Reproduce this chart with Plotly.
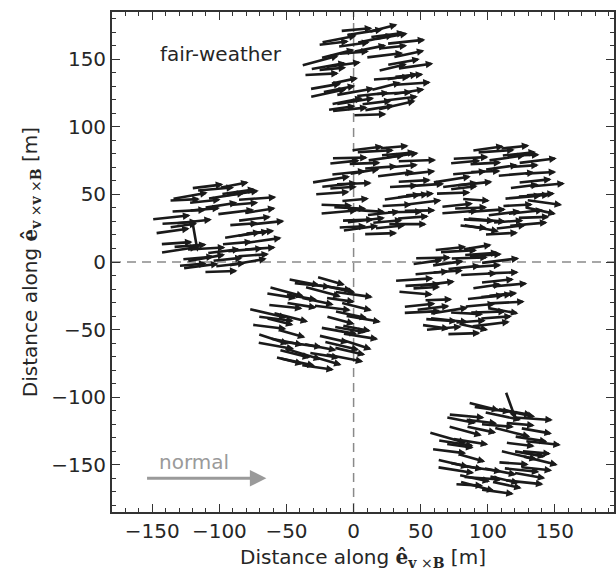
import math
import plotly.graph_objects as go

# Station centres (m) in the shower plane: v x B (x) and v x v x B (y)
station_x = [10, 18, 108, -101, -29, 80, 105]
station_y = [141, 53, 53, 25, -46, -21, -138]

# Antenna offsets within a station (m): outer ring, middle ring, inner ring, extras
offset_x = [36, 31, 29, 18, 12, -2, -8, -21, -25, -35, -34, -31, -29, -19, -13, 2, 9, 22, 26, 34,
            27, 19, 6, -10, -22, -26, -21, -9, 7, 20, 26,
            19, 13, 2, -10, -18, -17, -9, 4, 14, 18, 31,
            15, -15, 31, -29]
offset_y = [4, 13, 22, 26, 32, 29, 31, 24, 21, 8, -2, -11, -16, -27, -28, -32, -27, -25, -20, -9,
            7, 18, 24, 20, 13, 2, -13, -22, -23, -16, -4,
            3, 12, 17, 14, 5, -7, -15, -17, -11, -5, -15,
            27, -22, -3, 4]

# Arrow length (m) per antenna
arrow_len = [27, 24, 29, 25, 22, 28, 24, 27, 23, 29, 26, 24, 28, 21, 27, 25, 23, 29, 24, 27,
             25, 22, 28, 24, 26, 21, 25, 29, 23, 27, 24,
             22, 28, 25, 23, 27, 21, 29, 25, 23, 28, 24,
             26, 24, 22, 27]

# Polarisation direction (degrees from the v x B axis) per station and antenna
angle_a = [8, 12, 6, 10, 14, 9, 5, 11, 7, 15, 3, 10, 12, 8, 6, 2, 9, 13, 7, 4,
           10, 6, 12, 8, 14, 5, 11, 9, 7, 3, 9,
           13, 7, 11, 5, 8, 12, 10, 6, 14, 4, 9,
           7, 11, 5, 10]
angle_b = [4, 6, 2, 8, 5, 3, 7, 1, 6, 9, 4, -2, 5, 3, 8, 2, 6, 0, 4, 7,
           3, 5, 8, 2, 6, 4, -3, 7, 5, 1, 6,
           3, 7, 4, 9, 2, 5, -4, 6, 3, 8, 1,
           5, 2, 4, 6]
angle_c = [5, 3, 7, 2, 6, 4, 8, 3, 5, 9, 2, 6, 4, -6, -10, 3, 7, 5, 2, -8,
           6, 4, 8, 3, 5, 7, 2, -5, 4, 6, 3,
           7, 5, 8, 2, 6, -4, 4, 7, 3, 5, -12,
           6, -3, 4, 7]
angle_d = [6, 9, 4, 8, 11, 5, 7, 10, 3, 6, 8, 4, 9, 5, 7, 2, 6, 10, 4, 8,
           7, 5, 9, 6, 3, 8, 4, 10, 6, 5, 8,
           4, 7, 9, 5, 6, -80, 3, 7, 5, 9, 4,
           8, 5, 6, 3]
angle_e = [-10, -14, -8, -12, -16, -6, -11, -15, -9, -13, -7, -18, -10, -14, -12, -8, -16, -11, -13, -9,
           -12, -8, -15, -10, -6, -14, -11, -17, -9, -13, -10,
           -15, -7, -12, -9, -14, -16, -8, -11, -13, -10, -18,
           -9, -14, -11, -7]
angle_f = [5, 2, 7, 4, 9, 3, 6, 1, 8, 4, -5, 6, 3, -8, 5, 2, -12, 7, 4, 3,
           6, 4, 2, 8, 5, 3, 7, -6, 4, 2, 5,
           8, 3, 6, 4, 7, 2, 9, -3, 5, 6, -10,
           4, -4, 6, 3]
angle_g = [-6, -10, -4, -12, -70, -8, -14, -5, -11, -16, -7, -13, -9, -3, -15, -8, -12, -6, -10, -14,
           -9, -5, -12, -7, -15, -8, -11, -4, -13, -6, -10,
           -7, -14, -5, -12, -9, -16, -8, -11, -4, -13, -6,
           -10, -12, -5, -9]
station_angles = [angle_a, angle_b, angle_c, angle_d, angle_e, angle_f, angle_g]

# Reference "normal" direction arrow
normal_tail = (-155, -160)
normal_head = (-65, -160)

FONT = "DejaVu Sans, Liberation Sans, sans-serif"
TXT = "#262626"

annotations = []
for cx, cy, angles in zip(station_x, station_y, station_angles):
    for dx, dy, L, a in zip(offset_x, offset_y, arrow_len, angles):
        px, py = cx + dx, cy + dy
        ux, uy = math.cos(math.radians(a)) * L / 2, math.sin(math.radians(a)) * L / 2
        annotations.append(dict(
            x=px + ux, y=py + uy, ax=px - ux, ay=py - uy,
            xref="x", yref="y", axref="x", ayref="y",
            showarrow=True, arrowhead=2, arrowsize=0.58, arrowwidth=2.6,
            arrowcolor="#1a1a1a", standoff=0, startstandoff=0, text="",
        ))

annotations.append(dict(
    x=normal_head[0], y=normal_head[1], ax=normal_tail[0], ay=normal_tail[1],
    xref="x", yref="y", axref="x", ayref="y",
    showarrow=True, arrowhead=2, arrowsize=1.1, arrowwidth=3,
    arrowcolor="#9a9a9a", standoff=0, text="",
))
annotations.append(dict(
    x=-119, y=-148, xref="x", yref="y", text="normal", showarrow=False,
    font=dict(family=FONT, size=20, color="#9a9a9a"),
))
annotations.append(dict(
    x=-99, y=154, xref="x", yref="y", text="fair-weather", showarrow=False,
    font=dict(family=FONT, size=20, color=TXT),
))

SERIF = "style=\"font-family:'DejaVu Serif';font-weight:bold\""
x_title = (f"Distance along <span {SERIF}>ê</span>"
           f"<sub><span {SERIF}>v</span> ×<span {SERIF}>B</span></sub> [m]")
y_title = (f"Distance along <span {SERIF}>ê</span>"
           f"<sub><span {SERIF}>v</span> ×<span {SERIF}>v</span> ×<span {SERIF}>B</span></sub> [m]")

axis_common = dict(
    showgrid=False, zeroline=False, showline=True, linecolor="#333333", linewidth=1.8,
    mirror="ticks", ticks="inside", ticklen=8, tickwidth=1.2, tickcolor="#333333",
    dtick=50, tickfont=dict(family=FONT, size=20, color=TXT),
    minor=dict(dtick=10, ticks="inside", ticklen=4, tickwidth=1, tickcolor="#333333"),
)

fig = go.Figure()
fig.add_trace(go.Scatter(x=station_x, y=station_y, mode="markers",
                         marker=dict(size=0, opacity=0), hoverinfo="skip", showlegend=False))

fig.update_layout(
    width=616, height=575,
    margin=dict(l=112, r=0, t=12, b=63),
    paper_bgcolor="white", plot_bgcolor="white",
    xaxis=dict(range=[-180, 194], tick0=0,
               title=dict(text=x_title, font=dict(family=FONT, size=20, color=TXT), standoff=8),
               **axis_common),
    yaxis=dict(range=[-185, 185], tick0=0,
               title=dict(text=y_title, font=dict(family=FONT, size=20, color=TXT), standoff=8),
               **axis_common),
    shapes=[
        dict(type="line", xref="x", yref="paper", x0=0, x1=0, y0=0, y1=1,
             line=dict(color="#8a8a8a", width=1.5, dash="9px,6px"), layer="below"),
        dict(type="line", xref="paper", yref="y", x0=0, x1=1, y0=0, y1=0,
             line=dict(color="#8a8a8a", width=1.5, dash="9px,6px"), layer="below"),
    ],
    annotations=annotations,
    showlegend=False,
)

fig.write_html("out.html")
